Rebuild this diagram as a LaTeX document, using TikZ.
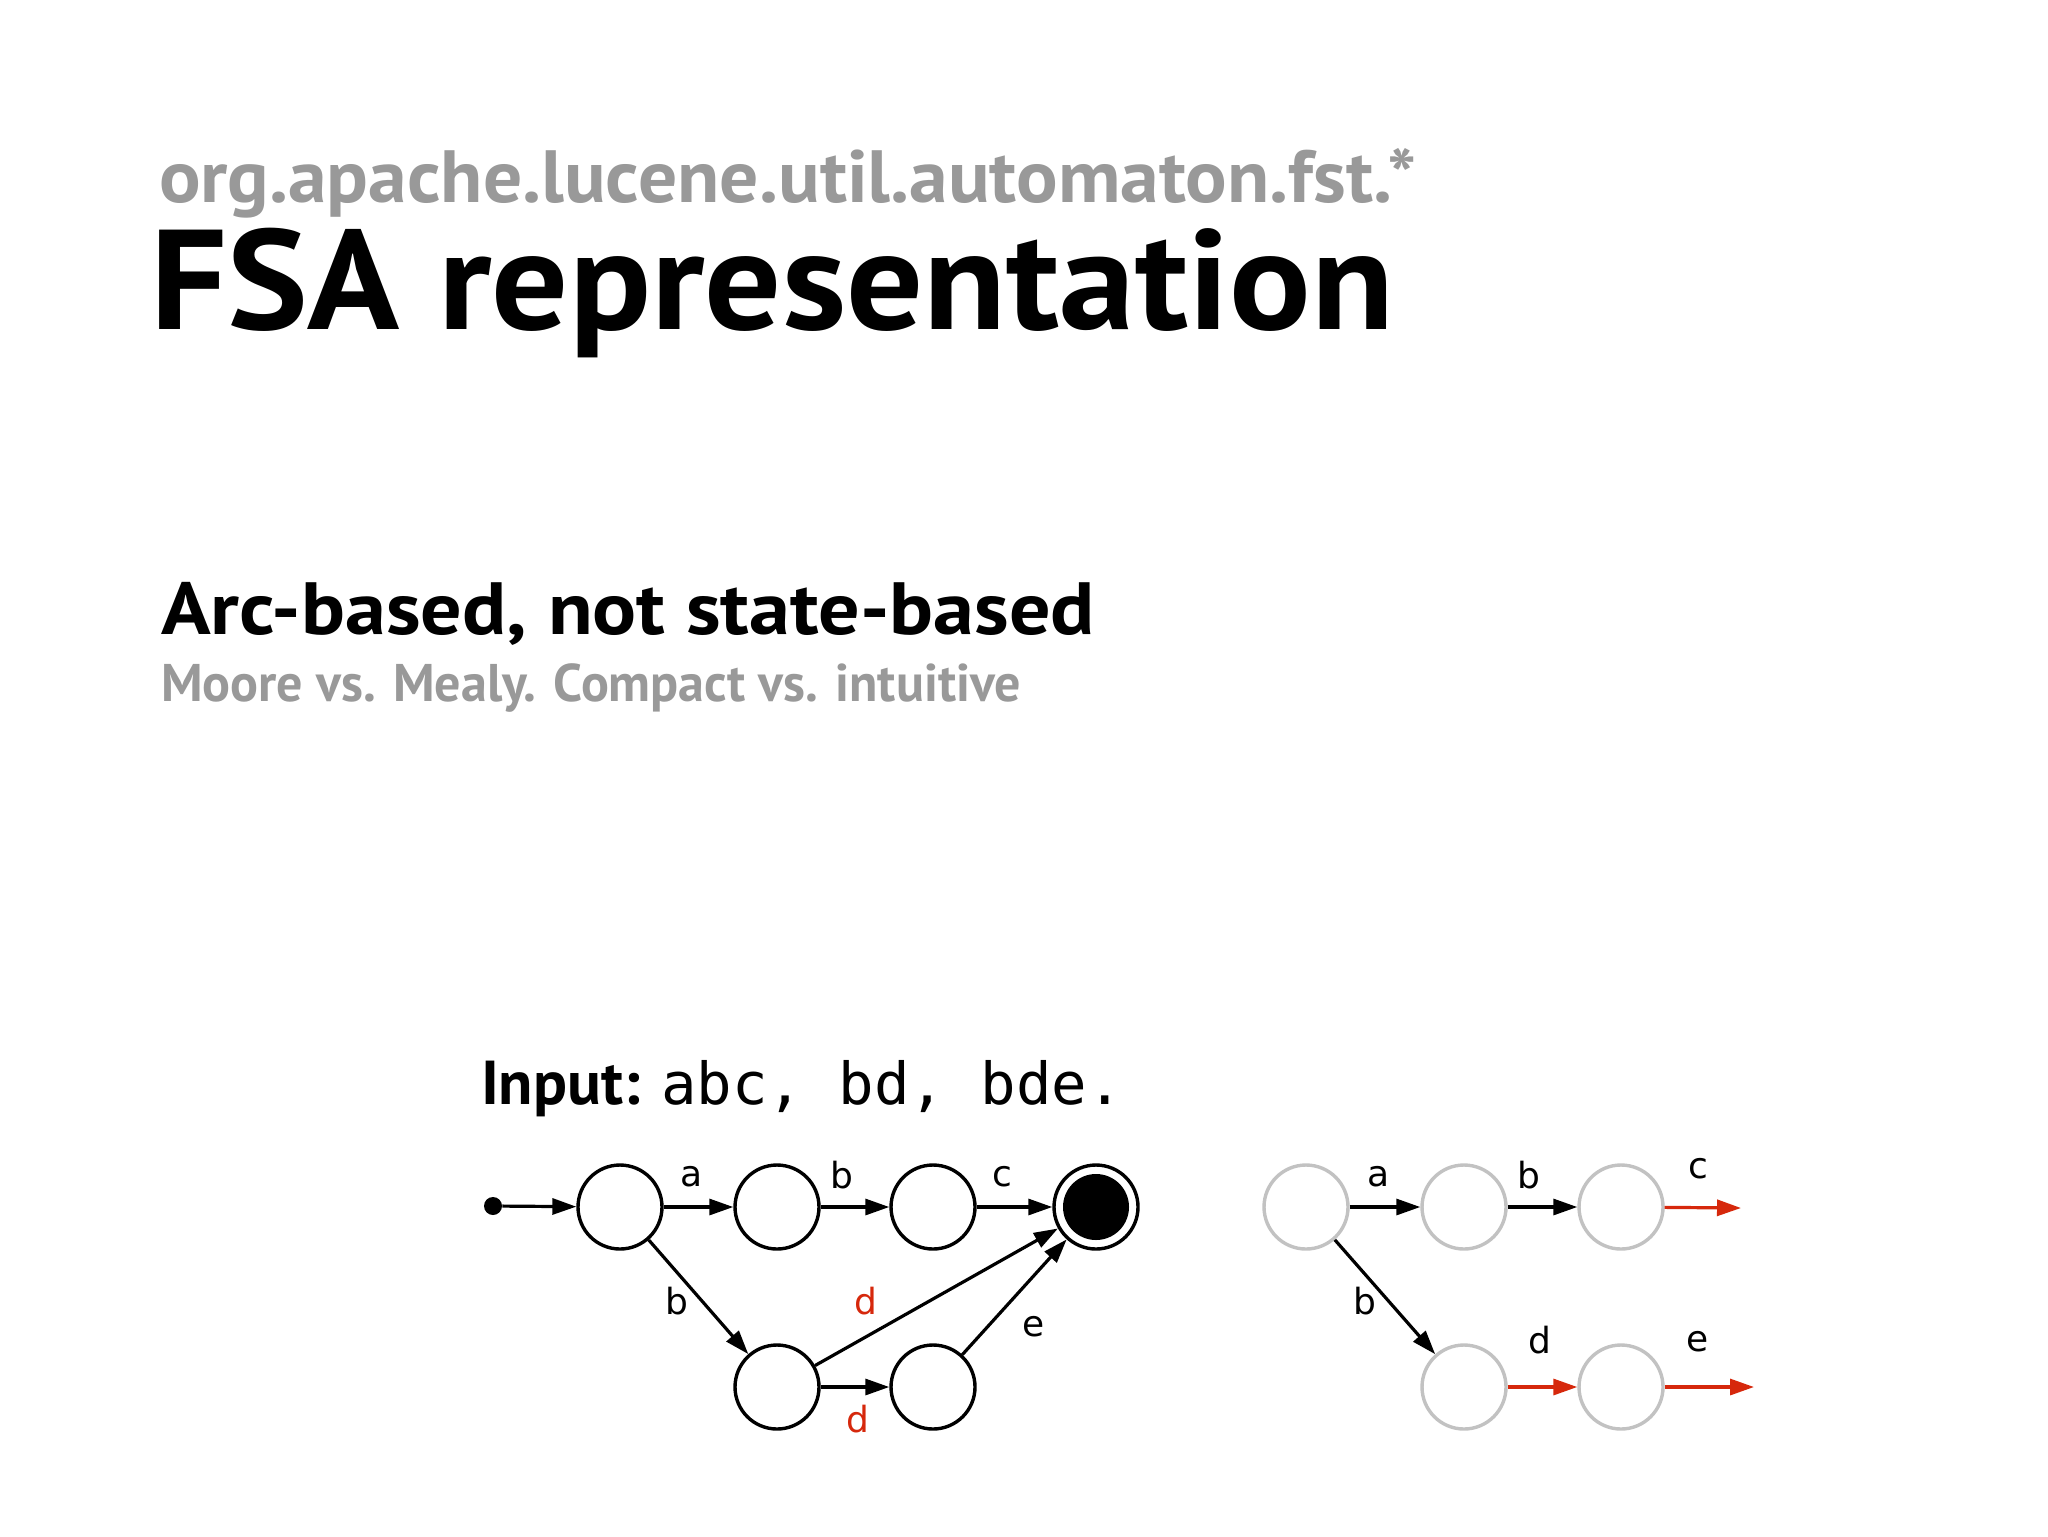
\documentclass[tikz,border=0pt]{standalone}
\usepackage{fontspec}
\setmainfont{PT Sans}
\newfontfamily\monof{DejaVu Sans Mono}
\newfontfamily\lblf{DejaVu Sans}
\usetikzlibrary{arrows.meta}
\definecolor{greytxt}{RGB}{153,153,153}
\definecolor{ringgrey}{RGB}{194,194,194}
\definecolor{arcred}{RGB}{214,40,12}
\newlength\fitwd
\newcommand\hfit[2]{\settowidth\fitwd{#2}\pgfmathsetmacro\fitratio{#1/\fitwd}\scalebox{\fitratio}[1]{#2}}
\tikzset{
  txt/.style={anchor=base west, inner sep=0pt, outer sep=0pt},
  state/.style={circle, draw=black, line width=1.7pt, minimum size=42pt, inner sep=0pt},
  gstate/.style={state, draw=ringgrey},
  final/.style={state, path picture={\fill[black] (path picture bounding box.center) circle[radius=16.5pt];}},
  arc/.style={line width=1.6pt, -{Triangle[length=12pt,width=8pt]}},
  redarc/.style={arc, draw=arcred},
  lbl/.style={font=\lblf\fontsize{18}{21}\selectfont, inner sep=0pt},
}
\begin{document}
\begin{tikzpicture}[x=0.5pt,y=-0.5pt]
\useasboundingbox[fill=white] (0,0) rectangle (2048,1536);

% titles
\node[txt, text=greytxt, font=\bfseries\fontsize{37}{44}\selectfont] (pkg) at (159,202) {\hfit{629}{org.apache.lucene.util.automaton.fst.*}};
\node[txt, font=\bfseries\fontsize{71}{80}\selectfont] (title) at (150,329) {\hfit{622}{FSA representation}};
\node[txt, font=\bfseries\fontsize{37}{44}\selectfont] (arcb) at (161,634) {\hfit{467}{Arc-based, not state-based}};
\node[txt, text=greytxt, font=\bfseries\fontsize{26.5}{32}\selectfont] (moore) at (161,701) {\hfit{430}{Moore vs. Mealy. Compact vs. intuitive}};
\node[txt, font=\fontsize{31}{36}\selectfont] (input) at (481,1104) {\hfit{321}{\bfseries Input: \mdseries\monof\fontsize{29}{34}\selectfont abc, bd, bde.}};

% left automaton
\node[circle, fill=black, minimum size=9pt, inner sep=0pt] (init) at (493,1206) {};
\node[state] (n1) at (620,1207) {};
\node[state] (n2) at (777,1207) {};
\node[state] (n3) at (933,1207) {};
\node[final] (n4) at (1096,1207) {};
\node[state] (n5) at (777,1387) {};
\node[state] (n6) at (933,1387) {};

\draw[arc] (init) -- (n1);
\draw[arc] (n1) -- (n2);
\draw[arc] (n2) -- (n3);
\draw[arc] (n3) -- (n4);
\draw[arc] (n1) -- (n5);
\draw[arc] (n5) -- (n4);
\draw[arc] (n5) -- (n6);
\draw[arc] (n6) -- (n4);

\node[lbl] (la) at (692,1177) {a};
\node[lbl] (lb1) at (842,1175) {b};
\node[lbl] (lc) at (1002,1177) {c};
\node[lbl] (lb2) at (677,1301) {b};
\node[lbl, text=arcred] (ld1) at (866,1301) {d};
\node[lbl, text=arcred] (ld2) at (858,1419) {d};
\node[lbl] (le) at (1034,1327) {e};

% right automaton
\node[gstate] (r1) at (1306,1207) {};
\node[gstate] (r2) at (1464,1207) {};
\node[gstate] (r3) at (1621,1207) {};
\node[gstate] (r5) at (1464,1387) {};
\node[gstate] (r6) at (1621,1387) {};
\coordinate (rc) at (1741,1208);
\coordinate (re) at (1754,1387);

\draw[arc] (r1) -- (r2);
\draw[arc] (r2) -- (r3);
\draw[redarc] (r3) -- (rc);
\draw[arc] (r1) -- (r5);
\draw[redarc] (r5) -- (r6);
\draw[redarc] (r6) -- (re);

\node[lbl] (ra) at (1379,1177) {a};
\node[lbl] (rb1) at (1529,1175) {b};
\node[lbl] (rcl) at (1698,1169) {c};
\node[lbl] (rb2) at (1365,1301) {b};
\node[lbl] (rd) at (1540,1340) {d};
\node[lbl] (rel) at (1698,1342) {e};
\end{tikzpicture}
\end{document}
